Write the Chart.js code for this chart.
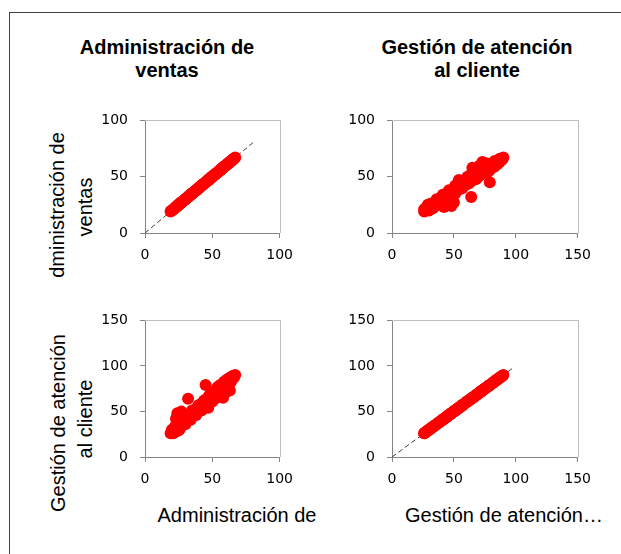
<!DOCTYPE html>
<html lang="es">
<head>
  <meta charset="UTF-8">
  <title>Matriz de dispersión</title>
  <script src="https://cdn.jsdelivr.net/npm/chart.js"></script>
  <style>
    html, body { margin: 0; padding: 0; background: #fff; overflow: hidden; }
    body { width: 621px; height: 554px; position: relative; font-family: "Liberation Sans", Arial, sans-serif; color: #000; }
    #frame { position: absolute; left: 9px; top: 12px; width: 800px; height: 800px; border: 1px solid #404040; }
    canvas { position: absolute; }
    .colTitle { position: absolute; width: 300px; text-align: center; font-weight: bold; font-size: 20px; line-height: 23px; white-space: nowrap; }
    .axTitle { position: absolute; width: 300px; text-align: center; font-size: 20px; line-height: 23px; white-space: nowrap; }
    .rowTitle { position: absolute; font-size: 20px; line-height: 20px; white-space: nowrap; transform: translate(-50%, -50%) rotate(-90deg); }
  </style>
</head>
<body>
  <div id="frame"></div>

  <div class="colTitle" style="left:17px; top:36px;">Administración de<br>ventas</div>
  <div class="colTitle" style="left:327px; top:36px;">Gestión de atención<br>al cliente</div>

  <div class="rowTitle" style="left:57px; top:205px;">dministración de</div>
  <div class="rowTitle" style="left:85px; top:207px;">ventas</div>
  <div class="rowTitle" style="left:58px; top:423px;">Gestión de atención</div>
  <div class="rowTitle" style="left:85px; top:419px;">al cliente</div>

  <div class="axTitle" style="left:87px; top:504px;">Administración de</div>
  <div class="axTitle" style="left:354px; top:504px;">Gestión de atención…</div>

  <canvas id="p11" width="207" height="170" style="left:95px; top:100px;"></canvas>
  <canvas id="p12" width="258" height="170" style="left:342px; top:100px;"></canvas>
  <canvas id="p21" width="207" height="194" style="left:95px; top:300px;"></canvas>
  <canvas id="p22" width="258" height="194" style="left:342px; top:300px;"></canvas>

  <script>
    // paired scores per respondent
    const admin = [19, 20, 21, 21, 22, 23, 23, 24, 25, 25, 26, 27, 27, 28, 29, 30, 30, 31, 32, 32,
      33, 34, 34, 35, 36, 36, 37, 38, 38, 39, 40, 40, 41, 42, 42, 43, 44, 44, 45, 46,
      46, 47, 48, 48, 49, 50, 50, 51, 52, 52, 53, 54, 55, 55, 56, 57, 57, 58, 59, 60,
      60, 61, 62, 62, 63, 64, 64, 65, 66, 66, 67,
      23, 24, 27, 32, 45, 58, 63, 47, 60, 29, 35, 41, 53,
      37, 44, 50, 55, 40, 52, 57, 48,
      20, 22, 24, 26, 28, 31, 33, 35, 37, 39, 41, 43, 45, 47, 49, 51, 53, 54, 56, 58,
      59, 61, 63, 65, 26, 30, 34, 38, 42, 46, 50, 54, 58, 62, 25, 43, 56, 61];
    const gestion = [26, 27, 29, 26, 30, 28, 32, 31, 33, 35, 34, 37, 35, 39, 38, 40, 42, 41, 44, 42,
      45, 44, 47, 46, 49, 47, 50, 51, 49, 53, 52, 55, 54, 57, 55, 58, 57, 60, 61, 60,
      63, 64, 62, 66, 65, 67, 69, 68, 70, 72, 71, 73, 75, 72, 76, 77, 74, 79, 78, 81,
      79, 82, 84, 81, 85, 86, 83, 88, 87, 89, 90,
      42, 48, 50, 64, 79, 65, 73, 54, 71, 44, 51, 53, 66,
      46, 62, 62, 78, 57, 64, 72, 68,
      30, 33, 35, 38, 41, 44, 47, 49, 52, 55, 57, 60, 63, 66, 69, 71, 74, 77, 79, 81,
      83, 85, 87, 89, 31, 36, 41, 46, 51, 56, 61, 66, 71, 76, 29, 53, 70, 79];

    const axisMax = [100, 150];     // admin, gestion
    const tickStep = 50;
    const diagEnd = [81, 98];       // dashed y = x reference on the diagonal panels

    Chart.defaults.font.family = 'DejaVu Sans';
    Chart.defaults.font.size = 14;
    Chart.defaults.color = '#000';

    const plotBorder = {
      id: 'plotBorder',
      beforeDatasetsDraw(chart) {
        const { ctx, chartArea: a } = chart;
        ctx.save();
        ctx.strokeStyle = '#bfbfbf';
        ctx.lineWidth = 1;
        ctx.beginPath();
        ctx.moveTo(Math.round(a.left), Math.round(a.top) + 0.5);
        ctx.lineTo(Math.round(a.right) + 0.5, Math.round(a.top) + 0.5);
        ctx.lineTo(Math.round(a.right) + 0.5, Math.round(a.bottom));
        ctx.stroke();
        ctx.restore();
      }
    };

    function axis(max, dir) {
      return {
        type: 'linear',
        min: 0,
        max: max,
        ticks: {
          stepSize: tickStep,
          color: '#000',
          font: { family: 'DejaVu Sans', size: 14 },
          padding: dir === 'y' ? 12 : 9,
          maxRotation: 0,
          autoSkip: false
        },
        grid: { drawOnChartArea: false, drawTicks: true, tickLength: 5, color: '#868686' },
        border: { color: '#868686' },
        afterFit: s => { if (dir === 'y') s.width = 50; else s.height = 37; }
      };
    }

    function panel(id, xs, ys, xMax, yMax, diag) {
      const datasets = [{
        data: xs.map((x, i) => ({ x: x, y: ys[i] })),
        backgroundColor: '#ff0000',
        borderColor: '#ff0000',
        borderWidth: 0,
        pointRadius: 6,
        order: 0
      }];
      if (diag) {
        datasets.push({
          data: [{ x: 0, y: 0 }, { x: diag, y: diag }],
          showLine: true,
          pointRadius: 0,
          borderColor: '#404040',
          borderWidth: 1,
          borderDash: [5, 3],
          order: 1
        });
      }
      new Chart(document.getElementById(id), {
        type: 'scatter',
        data: { datasets: datasets },
        options: {
          responsive: false,
          animation: false,
          layout: { padding: { top: 14, right: 15, left: 0, bottom: 0 } },
          plugins: { legend: { display: false }, tooltip: { enabled: false } },
          scales: { x: axis(xMax, 'x'), y: axis(yMax, 'y') }
        },
        plugins: [plotBorder]
      });
    }

    panel('p11', admin, admin, axisMax[0], axisMax[0], diagEnd[0]);
    panel('p12', gestion, admin, axisMax[1], axisMax[0], null);
    panel('p21', admin, gestion, axisMax[0], axisMax[1], null);
    panel('p22', gestion, gestion, axisMax[1], axisMax[1], diagEnd[1]);
  </script>
</body>
</html>
